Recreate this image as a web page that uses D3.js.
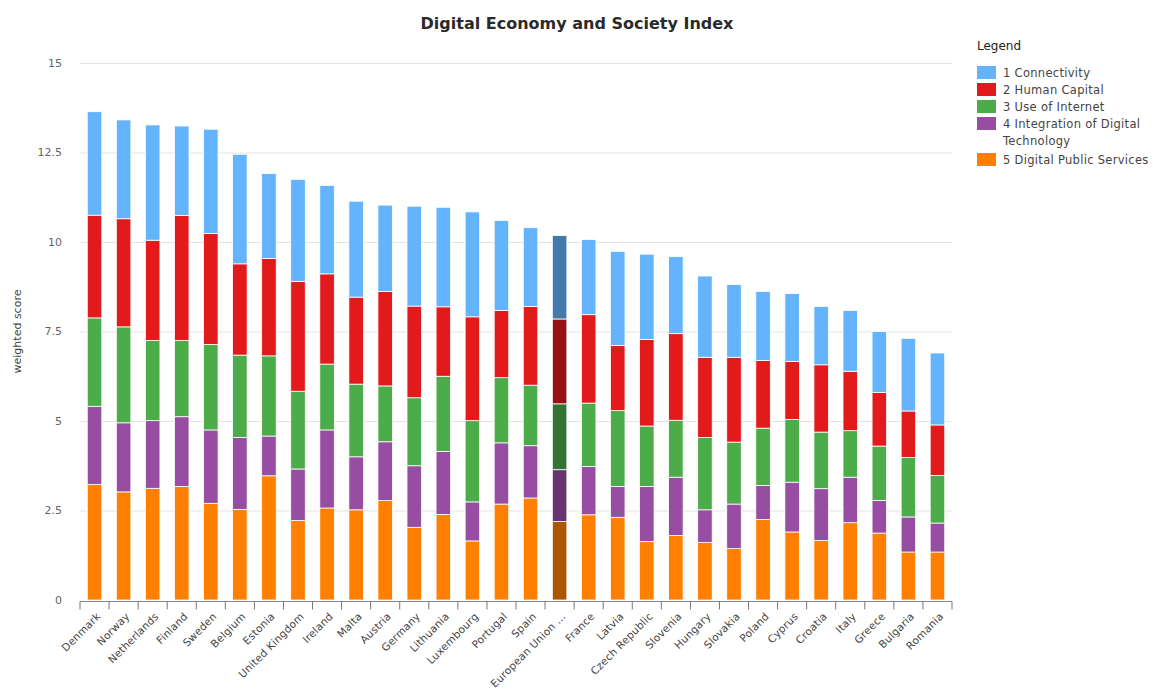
<!DOCTYPE html>
<html>
<head>
<meta charset="utf-8">
<script src="https://cdn.jsdelivr.net/npm/d3@7"></script>
<style>
  body { margin: 0; background: #fff; }
  text { font-family: "DejaVu Sans", sans-serif; }
</style>
</head>
<body>
<script>
// countries in the order shown (sorted by total score)
var countries = ["Denmark", "Norway", "Netherlands", "Finland", "Sweden", "Belgium", "Estonia",
  "United Kingdom", "Ireland", "Malta", "Austria", "Germany", "Lithuania", "Luxembourg", "Portugal",
  "Spain", "European Union ...", "France", "Latvia", "Czech Republic", "Slovenia", "Hungary",
  "Slovakia", "Poland", "Cyprus", "Croatia", "Italy", "Greece", "Bulgaria", "Romania"];

// one array per dimension
var publicServices = [3.23, 3.02, 3.12, 3.17, 2.70, 2.53, 3.47, 2.22, 2.57, 2.52, 2.78, 2.03, 2.39, 1.65, 2.68,
  2.85, 2.19, 2.38, 2.31, 1.63, 1.80, 1.61, 1.44, 2.25, 1.90, 1.66, 2.16, 1.87, 1.34, 1.34];
var integration = [2.18, 1.93, 1.89, 1.95, 2.05, 2.01, 1.11, 1.44, 2.18, 1.48, 1.64, 1.72, 1.76, 1.09, 1.71,
  1.46, 1.45, 1.35, 0.86, 1.54, 1.63, 0.91, 1.24, 0.95, 1.39, 1.45, 1.27, 0.91, 0.98, 0.81];
var useOfInternet = [2.47, 2.68, 2.24, 2.13, 2.39, 2.30, 2.24, 2.17, 1.84, 2.03, 1.56, 1.90, 2.10, 2.27, 1.82,
  1.69, 1.84, 1.77, 2.12, 1.69, 1.59, 2.02, 1.73, 1.60, 1.75, 1.58, 1.30, 1.52, 1.66, 1.33];
var humanCapital = [2.87, 3.02, 2.80, 3.49, 3.10, 2.55, 2.72, 3.07, 2.52, 2.43, 2.64, 2.56, 1.94, 2.90, 1.88,
  2.20, 2.37, 2.47, 1.82, 2.42, 2.42, 2.24, 2.37, 1.89, 1.62, 1.88, 1.66, 1.50, 1.30, 1.41];
var connectivity = [2.89, 2.76, 3.22, 2.50, 2.91, 3.06, 2.37, 2.85, 2.47, 2.68, 2.41, 2.79, 2.78, 2.93, 2.51,
  2.20, 2.33, 2.10, 2.63, 2.38, 2.15, 2.27, 2.03, 1.93, 1.90, 1.63, 1.70, 1.70, 2.03, 2.01];

var seriesNames = ["1 Connectivity", "2 Human Capital", "3 Use of Internet",
  "4 Integration of Digital Technology", "5 Digital Public Services"];
var seriesColors = ["#63b4fd", "#e31a1c", "#4dac4a", "#974ea2", "#ff7f00"];
var highlight = "European Union ...";

var yTicks = [0, 2.5, 5, 7.5, 10, 12.5, 15];

var width = 1153, height = 700;
var margin = {left: 80, right: 201, top: 63, bottom: 100};

var svg = d3.select("body").append("svg")
  .attr("width", width)
  .attr("height", height);

// build rows for the stack, bottom series first
var keys = ["pub", "integ", "use", "human", "conn"];
var keyColor = {conn: seriesColors[0], human: seriesColors[1], use: seriesColors[2], integ: seriesColors[3], pub: seriesColors[4]};
var rows = countries.map(function(c, i) {
  return {country: c, pub: publicServices[i], integ: integration[i], use: useOfInternet[i],
    human: humanCapital[i], conn: connectivity[i]};
});
var stacked = d3.stack().keys(keys)(rows);

var x = d3.scaleBand()
  .domain(countries)
  .range([margin.left, width - margin.right])
  .paddingInner(0.5)
  .paddingOuter(0.25);

var y = d3.scaleLinear()
  .domain([0, 15])
  .range([height - margin.bottom, margin.top]);

// grid lines
svg.append("g")
  .selectAll("line")
  .data(yTicks.slice(1))
  .enter().append("line")
  .attr("x1", margin.left)
  .attr("x2", width - margin.right)
  .attr("y1", function(d) { return y(d) + 0.5; })
  .attr("y2", function(d) { return y(d) + 0.5; })
  .attr("stroke", "#e3e3e3")
  .attr("stroke-width", 1);

// y tick labels
svg.append("g")
  .selectAll("text")
  .data(yTicks)
  .enter().append("text")
  .attr("x", 62)
  .attr("y", function(d) { return y(d); })
  .attr("dy", "0.35em")
  .attr("text-anchor", "end")
  .style("font-size", "11px")
  .style("fill", "#666")
  .text(function(d) { return d; });

// y axis title
svg.append("text")
  .attr("transform", "translate(21," + y(7.5) + ") rotate(-90)")
  .attr("text-anchor", "middle")
  .style("font-size", "11px")
  .style("fill", "#444")
  .text("weighted score");

// bars
var layer = svg.append("g")
  .selectAll("g")
  .data(stacked)
  .enter().append("g");

layer.selectAll("rect")
  .data(function(s) { return s.map(function(d) { d.key = s.key; return d; }); })
  .enter().append("rect")
  .attr("x", function(d) { return x(d.data.country); })
  .attr("width", x.bandwidth())
  .attr("y", function(d) { return y(d[1]); })
  .attr("height", function(d) { return y(d[0]) - y(d[1]); })
  .attr("fill", function(d) {
    var c = keyColor[d.key];
    // the EU average bar is drawn darker
    return d.data.country === highlight ? d3.color(c).darker(1.1) : c;
  })
  .attr("stroke", "#fff")
  .attr("stroke-width", 0.8);

// x axis line with ticks at band boundaries
var axisG = svg.append("g");
var y0 = y(0) + 1.5;
axisG.append("line")
  .attr("x1", margin.left).attr("x2", width - margin.right)
  .attr("y1", y0).attr("y2", y0)
  .attr("stroke", "#888").attr("stroke-width", 1.2);

var tickPos = d3.range(countries.length + 1).map(function(i) {
  return margin.left + i * x.step();
});
axisG.selectAll("line.tick")
  .data(tickPos)
  .enter().append("line")
  .attr("class", "tick")
  .attr("x1", function(d) { return d; })
  .attr("x2", function(d) { return d; })
  .attr("y1", y0).attr("y2", y0 + 8)
  .attr("stroke", "#777").attr("stroke-width", 1);

// x labels rotated
axisG.selectAll("text")
  .data(countries)
  .enter().append("text")
  .attr("transform", function(d) {
    return "translate(" + (x(d) + x.bandwidth() / 2 + 4) + "," + (y0 + 13) + ") rotate(-45)";
  })
  .attr("text-anchor", "end")
  .attr("dy", "0.35em")
  .style("font-size", "10.5px")
  .style("letter-spacing", "0.2px")
  .style("fill", "#444")
  .text(function(d) { return d; });

// title
svg.append("text")
  .attr("x", 577)
  .attr("y", 29)
  .attr("text-anchor", "middle")
  .style("font-size", "16px")
  .style("font-weight", "bold")
  .style("fill", "#2a2a2a")
  .text("Digital Economy and Society Index");

// legend
var legend = svg.append("g").attr("transform", "translate(977,0)");
legend.append("text")
  .attr("x", 0).attr("y", 50)
  .style("font-size", "12px")
  .style("fill", "#222")
  .text("Legend");

var legendY = [66, 83, 100, 117, 153];
var legendLines = [["1 Connectivity"], ["2 Human Capital"], ["3 Use of Internet"],
  ["4 Integration of Digital", "Technology"], ["5 Digital Public Services"]];
var item = legend.selectAll("g.item")
  .data(seriesNames)
  .enter().append("g")
  .attr("class", "item")
  .attr("transform", function(d, i) { return "translate(0," + legendY[i] + ")"; });

item.append("rect")
  .attr("width", 19).attr("height", 13)
  .attr("fill", function(d, i) { return seriesColors[i]; });

item.append("text")
  .attr("x", 26)
  .attr("y", 10.5)
  .style("font-size", "11.5px")
  .style("letter-spacing", "0.3px")
  .style("fill", "#444")
  .each(function(d, i) {
    var t = d3.select(this);
    legendLines[i].forEach(function(line, j) {
      t.append("tspan").attr("x", 26).attr("dy", j === 0 ? 0 : 17).text(line);
    });
  });
</script>
</body>
</html>
